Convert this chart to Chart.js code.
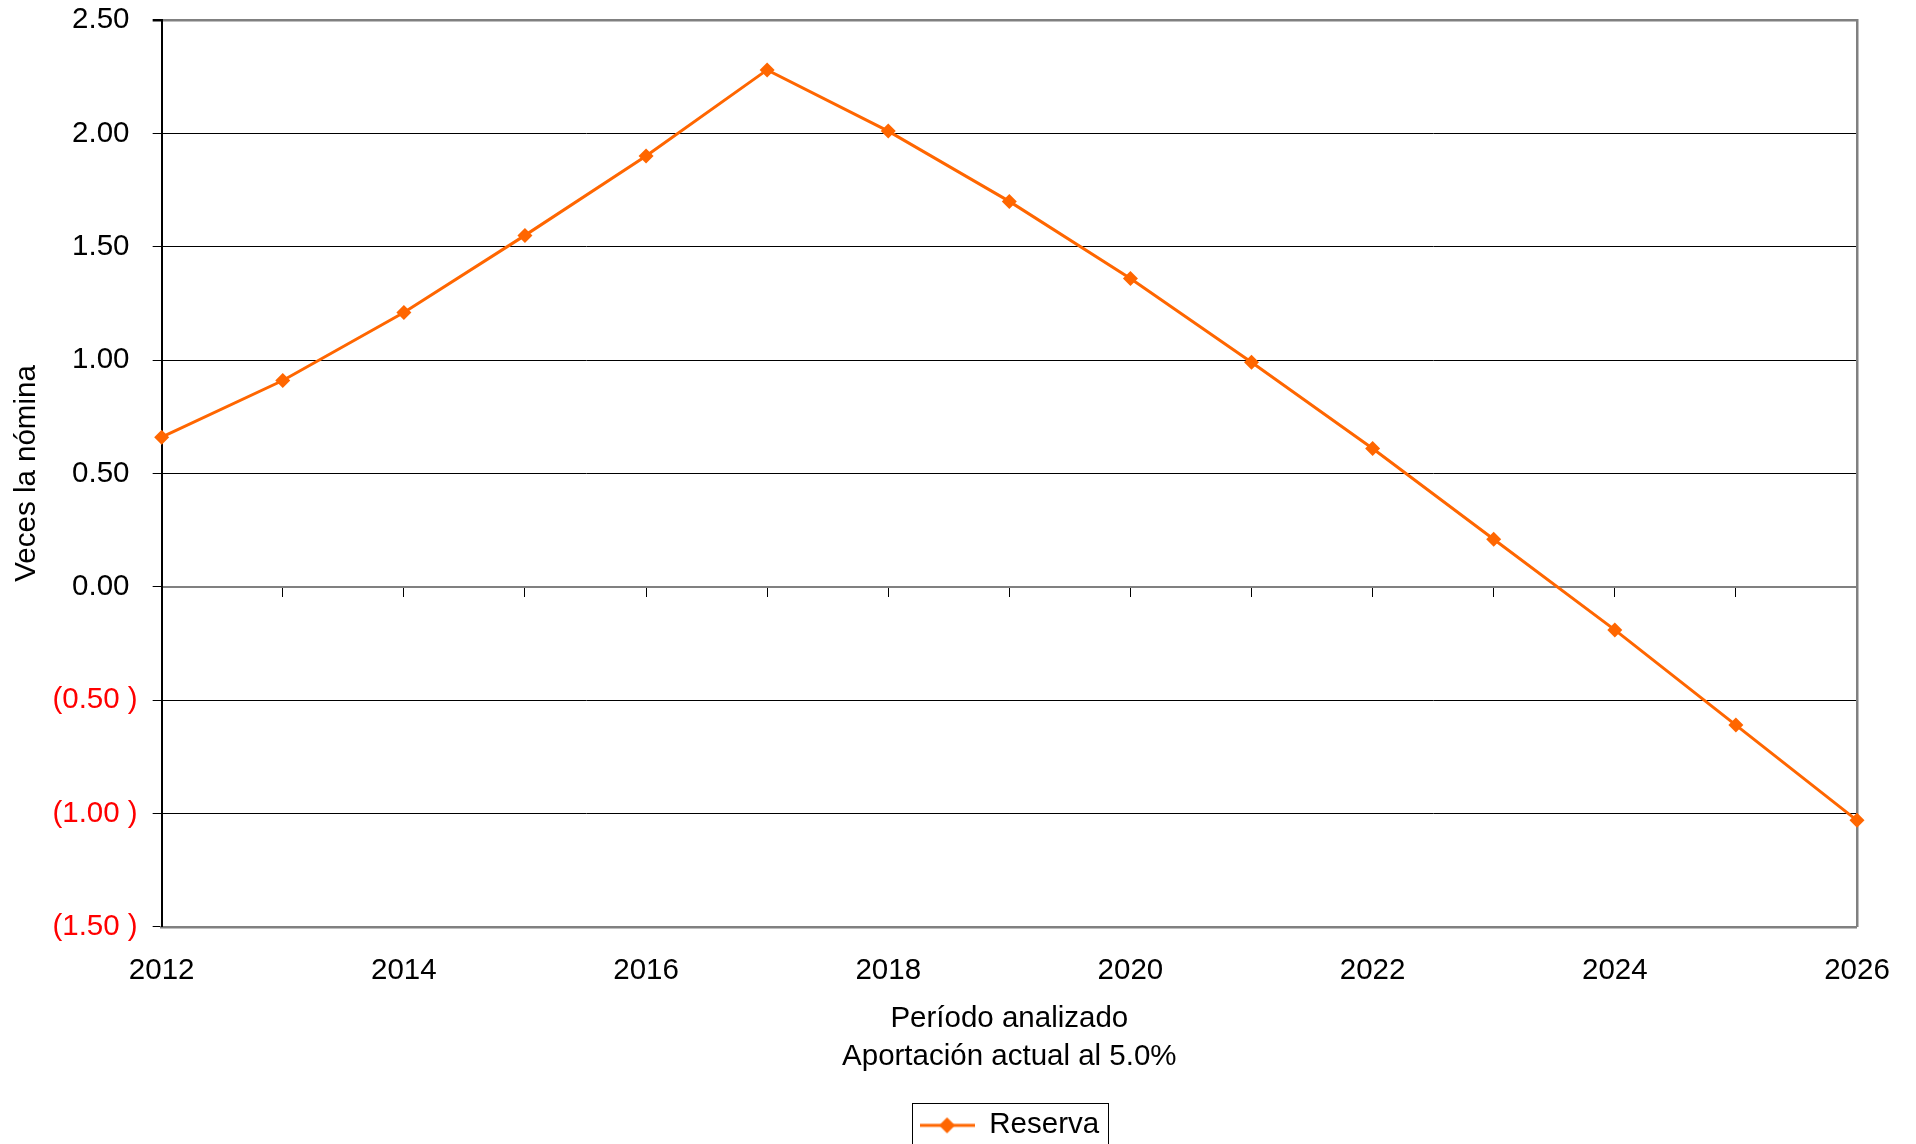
<!DOCTYPE html>
<html>
<head>
<meta charset="utf-8">
<script src="https://cdn.jsdelivr.net/npm/chart.js@4.4.1/dist/chart.umd.min.js"></script>
<style>
  html, body { margin: 0; padding: 0; background: #fff; overflow: hidden; }
  #wrap { width: 1916px; height: 1160px; }
</style>
</head>
<body>
<div id="wrap"><canvas id="myChart"></canvas></div>
<script>
const years = ['2012', '2013', '2014', '2015', '2016', '2017', '2018', '2019',
               '2020', '2021', '2022', '2023', '2024', '2025', '2026'];
const reserva = [0.66, 0.91, 1.21, 1.55, 1.90, 2.28, 2.01, 1.70,
                 1.36, 0.99, 0.61, 0.21, -0.19, -0.61, -1.03];
const yMin = -1.5;
const yMax = 2.5;
const yStep = 0.5;

const orange = '#FF6600';
const gray = '#808080';

Chart.defaults.font.family = '"Liberation Sans", Arial, sans-serif';
Chart.defaults.font.size = 29.5;
Chart.defaults.color = '#000';

// legend marker: line with diamond, like the spreadsheet one
const marker = document.createElement( 'canvas' );
marker.width = 55;
marker.height = 20;
const mctx = marker.getContext( '2d' );
mctx.strokeStyle = orange;
mctx.lineWidth = 3;
mctx.beginPath();
mctx.moveTo( 0, 10 );
mctx.lineTo( 55, 10 );
mctx.stroke();
mctx.fillStyle = orange;
mctx.beginPath();
mctx.moveTo( 27.5, 2 );
mctx.lineTo( 35.5, 10 );
mctx.lineTo( 27.5, 18 );
mctx.lineTo( 19.5, 10 );
mctx.closePath();
mctx.fill();

function fmt( v ) {
    const s = Math.abs( v ).toFixed( 2 );
    return v < 0 ? '(' + s + ' )' : s + '\u00a0';
}

const legendBox = {
    id: 'legendBox',
    afterDraw( chart ) {
        const hb = chart.legend.legendHitBoxes[0];
        if ( !hb ) return;
        const c = chart.ctx;
        c.save();
        c.strokeStyle = '#000';
        c.lineWidth = 1;
        c.strokeRect( Math.round( hb.left - 8 ) + 0.5, Math.round( hb.top + hb.height / 2 - 22 ) + 0.5,
                      Math.round( hb.width + 16 ), 46 );
        c.restore();
    }
};

const ctx = document.getElementById( 'myChart' ).getContext( '2d' );

var myChart = new Chart( ctx, {
    type: 'line',
    data: {
        labels: years,
        datasets: [
            {
                label: 'Reserva',
                data: reserva,
                borderColor: orange,
                backgroundColor: orange,
                borderWidth: 3,
                pointStyle: 'rectRot',
                pointRadius: 7.5,
                pointHoverRadius: 7.5,
                pointBorderWidth: 0,
                pointBackgroundColor: orange,
                tension: 0,
                clip: false
            }
        ]
    },
    options: {
        responsive: true,
        maintainAspectRatio: false,
        animation: false,
        layout: {
            padding: { top: 20, left: 0, right: 59, bottom: 9.9 }
        },
        plugins: {
            tooltip: { enabled: false },
            legend: {
                position: 'bottom',
                fullSize: false,
                labels: {
                    usePointStyle: true,
                    pointStyle: marker,
                    pointStyleWidth: 55,
                    padding: 10,
                    color: '#000',
                    font: { size: 29.5 }
                }
            }
        },
        scales: {
            x: {
                type: 'category',
                offset: false,
                grid: { display: false, drawTicks: false },
                border: { display: true, color: gray, width: 2.5 },
                ticks: {
                    autoSkip: false,
                    maxRotation: 0,
                    padding: 26.2,
                    color: '#000',
                    callback: function ( val, i ) {
                        return i % 2 === 0 ? this.getLabelForValue( val ) : '';
                    }
                },
                title: {
                    display: true,
                    text: [ 'Período analizado', 'Aportación actual al 5.0%' ],
                    color: '#000',
                    font: { size: 29.5, lineHeight: 1.29 },
                    padding: { top: -15, bottom: 24.8 }
                }
            },
            x2: {
                type: 'category',
                position: { y: 0 },
                offset: false,
                grid: {
                    drawOnChartArea: false,
                    drawTicks: true,
                    tickLength: 9,
                    color: '#000',
                    lineWidth: 1
                },
                border: { display: true, color: gray, width: 2 },
                ticks: { display: false }
            },
            y: {
                min: yMin,
                max: yMax,
                afterFit: ( s ) => { s.paddingTop = 0; s.paddingBottom = 0; },
                grid: {
                    color: ( c ) => c.tick && c.tick.value === yMax ? gray : '#000',
                    lineWidth: ( c ) => c.tick && c.tick.value === yMax ? 2.5 : 1,
                    tickColor: '#000',
                    tickLength: 9
                },
                border: { display: true, color: '#000', width: 2 },
                ticks: {
                    stepSize: yStep,
                    padding: 15,
                    color: ( c ) => c.tick && c.tick.value < 0 ? '#FF0000' : '#000',
                    callback: ( v ) => fmt( v )
                },
                title: {
                    display: true,
                    text: 'Veces la nómina',
                    color: '#000',
                    font: { size: 29.5 },
                    padding: { top: 9.5, bottom: -7.5 }
                }
            },
            yRight: {
                position: 'right',
                grid: { display: false, drawTicks: false },
                border: { display: true, color: gray, width: 2.5 },
                ticks: { display: false }
            }
        }
    },
    plugins: [ legendBox ]
} );
</script>
</body>
</html>
